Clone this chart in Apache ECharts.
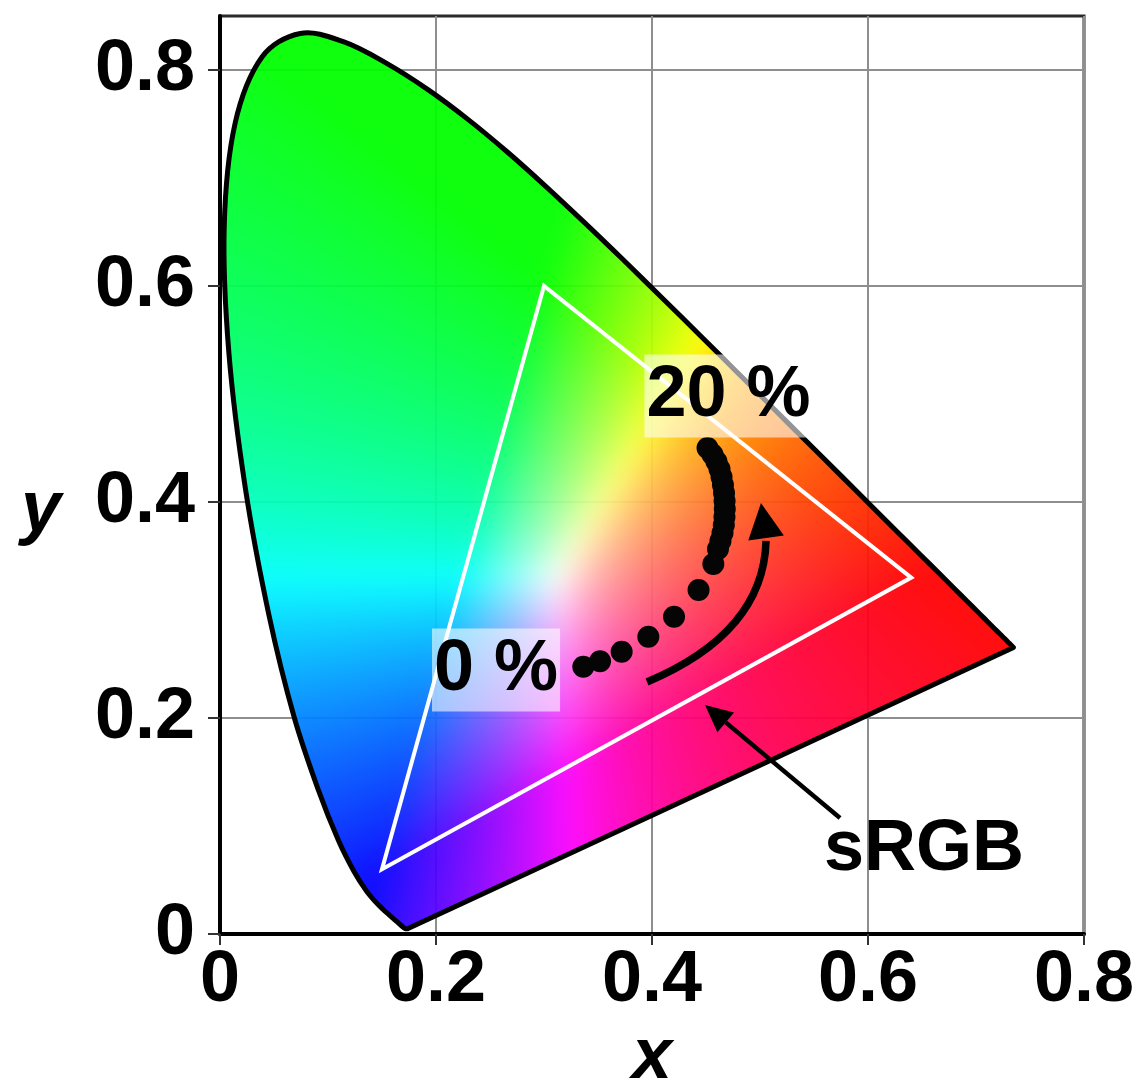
<!DOCTYPE html>
<html>
<head>
<meta charset="utf-8">
<script src="https://cdn.jsdelivr.net/npm/echarts@6/dist/echarts.min.js"></script>
<style>
  html, body { margin: 0; padding: 0; background: #ffffff; }
  #chart { width: 1140px; height: 1088px; }
</style>
</head>
<body>
<div id="chart"></div>
<script>
// Axis extents and tick values
const X_RANGE = [0, 0.8];
const Y_RANGE = [0, 0.85];
const tickValues = [0, 0.2, 0.4, 0.6, 0.8];

// CIE 1931 2-degree spectral locus, 380-700 nm in 5 nm steps
const locusX = [0.1741,0.1740,0.1738,0.1736,0.1733,0.1730,0.1726,0.1721,0.1714,0.1703,0.1689,0.1669,0.1644,0.1611,0.1566,0.1510,0.1440,0.1355,0.1241,0.1096,0.0913,0.0687,0.0454,0.0235,0.0082,0.0039,0.0139,0.0389,0.0743,0.1142,0.1547,0.1929,0.2296,0.2658,0.3016,0.3373,0.3731,0.4087,0.4441,0.4788,0.5125,0.5448,0.5752,0.6029,0.6270,0.6482,0.6658,0.6801,0.6915,0.7006,0.7079,0.7140,0.7190,0.7230,0.7260,0.7283,0.7300,0.7311,0.7320,0.7327,0.7334,0.7340,0.7344,0.7346,0.7347];
const locusY = [0.0050,0.0050,0.0049,0.0049,0.0048,0.0048,0.0048,0.0048,0.0051,0.0058,0.0069,0.0086,0.0109,0.0138,0.0177,0.0227,0.0297,0.0399,0.0578,0.0868,0.1327,0.2007,0.2950,0.4127,0.5384,0.6548,0.7502,0.8120,0.8338,0.8262,0.8059,0.7816,0.7543,0.7243,0.6923,0.6589,0.6245,0.5896,0.5547,0.5202,0.4866,0.4544,0.4242,0.3965,0.3725,0.3514,0.3340,0.3197,0.3083,0.2993,0.2920,0.2859,0.2809,0.2770,0.2740,0.2717,0.2700,0.2689,0.2680,0.2673,0.2666,0.2660,0.2656,0.2654,0.2653];

// sRGB primaries (R, G, B)
const srgbX = [0.64, 0.30, 0.15];
const srgbY = [0.33, 0.60, 0.06];

// Emission chromaticity, 0 % to 20 % in 1 % steps
const dopantX = [0.3364,0.3519,0.3719,0.3966,0.4204,0.4431,0.4568,0.4611,0.4634,0.4653,0.4665,0.4671,0.4674,0.4672,0.4667,0.4657,0.4644,0.4625,0.4597,0.4560,0.4514];
const dopantY = [0.2475,0.2525,0.2614,0.2753,0.2938,0.3185,0.3426,0.3565,0.3639,0.3713,0.3787,0.3861,0.3935,0.4009,0.4083,0.4157,0.4231,0.4306,0.4375,0.4440,0.4500];

// Annotation texts and their anchor points (data space)
const labelText = ['0 %', '20 %', 'sRGB'];
const labelX = [0.2556, 0.4708, 0.6519];
const labelY = [0.2444, 0.4981, 0.0778];
const labelBoxed = [true, true, false];

// Curved trend arrow: start, control, head base, tip
const curveArrowX = [0.3954, 0.5032, 0.5056, 0.5009];
const curveArrowY = [0.2333, 0.2787, 0.3667, 0.3991];
// Straight pointer to the sRGB triangle: start, tip
const pointerArrowX = [0.5741, 0.4491];
const pointerArrowY = [0.1074, 0.2120];

const FONT = '"Liberation Sans", Arial, Helvetica, sans-serif';
const GAMMA = 1.2;

// xy chromaticity -> display colour (clip negatives, normalise to max)
function chromaticityColor(x, y) {
  y = Math.max(y, 1e-3);
  const X = x / y, Y = 1, Z = (1 - x - y) / y;
  let r =  3.2406 * X - 1.5372 * Y - 0.4986 * Z;
  let g = -0.9689 * X + 1.8758 * Y + 0.0415 * Z;
  let b =  0.0557 * X - 0.2040 * Y + 1.0570 * Z;
  r = Math.max(r, 0); g = Math.max(g, 0); b = Math.max(b, 0);
  const m = Math.max(r, g, b) || 1;
  return [r / m, g / m, b / m].map(v => Math.round(255 * Math.pow(v, 1 / GAMMA)));
}

let fillPattern = null;
function getFillPattern(api) {
  if (fillPattern) return fillPattern;
  const W = Math.ceil(api.getWidth()), H = Math.ceil(api.getHeight());
  const p0 = api.coord([X_RANGE[0], Y_RANGE[1]]);
  const p1 = api.coord([X_RANGE[1], Y_RANGE[0]]);
  const raw = document.createElement('canvas');
  raw.width = W; raw.height = H;
  const rctx = raw.getContext('2d');
  const img = rctx.createImageData(W, H);
  const d = img.data;
  for (let j = 0; j < H; j++) {
    const y = Y_RANGE[1] + (j + 0.5 - p0[1]) / (p1[1] - p0[1]) * (Y_RANGE[0] - Y_RANGE[1]);
    for (let i = 0; i < W; i++) {
      const x = X_RANGE[0] + (i + 0.5 - p0[0]) / (p1[0] - p0[0]) * (X_RANGE[1] - X_RANGE[0]);
      const c = chromaticityColor(Math.max(x, 0), y);
      const k = (j * W + i) * 4;
      d[k] = c[0]; d[k + 1] = c[1]; d[k + 2] = c[2]; d[k + 3] = 255;
    }
  }
  rctx.putImageData(img, 0, 0);
  // soften the hue seams of the max-normalised field
  const cv = document.createElement('canvas');
  cv.width = W; cv.height = H;
  const ctx = cv.getContext('2d');
  ctx.filter = 'blur(12px)';
  ctx.drawImage(raw, 0, 0);
  fillPattern = { image: cv, repeat: 'no-repeat' };
  return fillPattern;
}

function renderLocus(params, api) {
  const pts = locusX.map((x, i) => api.coord([x, locusY[i]]));
  return {
    type: 'group',
    children: [
      { type: 'polygon', silent: true, shape: { points: pts, smooth: 0.35 },
        style: { fill: getFillPattern(api), opacity: 0.94 } },
      { type: 'polygon', silent: true, shape: { points: pts, smooth: 0.35 },
        style: { fill: 'none', stroke: '#000', lineWidth: 5, lineJoin: 'round' } }
    ]
  };
}

function renderGamut(params, api) {
  const pts = srgbX.map((x, i) => api.coord([x, srgbY[i]]));
  return { type: 'polygon', silent: true, shape: { points: pts },
    style: { fill: 'none', stroke: '#ffffff', lineWidth: 4, lineJoin: 'miter' } };
}

function arrowHead(tip, base, halfWidth) {
  const dx = tip[0] - base[0], dy = tip[1] - base[1];
  const len = Math.hypot(dx, dy) || 1;
  const nx = -dy / len, ny = dx / len;
  return [tip, [base[0] + nx * halfWidth, base[1] + ny * halfWidth], [base[0] - nx * halfWidth, base[1] - ny * halfWidth]];
}

function renderArrows(params, api) {
  const c = curveArrowX.map((x, i) => api.coord([x, curveArrowY[i]]));
  const s = api.coord([pointerArrowX[0], pointerArrowY[0]]);
  const t = api.coord([pointerArrowX[1], pointerArrowY[1]]);
  const headLen = 27;
  const L = Math.hypot(t[0] - s[0], t[1] - s[1]);
  const base = [t[0] - (t[0] - s[0]) / L * headLen, t[1] - (t[1] - s[1]) / L * headLen];
  return {
    type: 'group',
    children: [
      { type: 'bezierCurve', silent: true,
        shape: { x1: c[0][0], y1: c[0][1], cpx1: c[1][0], cpy1: c[1][1], x2: c[2][0], y2: c[2][1] + 3 },
        style: { fill: 'none', stroke: '#000', lineWidth: 7.5, lineCap: 'butt' } },
      { type: 'polygon', silent: true, shape: { points: arrowHead(c[3], c[2], 18) }, style: { fill: '#000' } },
      { type: 'line', silent: true,
        shape: { x1: s[0], y1: s[1], x2: base[0], y2: base[1] },
        style: { stroke: '#000', lineWidth: 4.5 } },
      { type: 'polygon', silent: true, shape: { points: arrowHead(t, base, 13) }, style: { fill: '#000' } }
    ]
  };
}

function renderLabels(params, api) {
  return {
    type: 'group',
    children: labelText.map((txt, i) => {
      const p = api.coord([labelX[i], labelY[i]]);
      const style = {
        text: txt, fill: '#000', fontSize: 72, fontWeight: 'bold', fontFamily: FONT,
        align: 'center', verticalAlign: 'middle'
      };
      if (labelBoxed[i]) {
        style.backgroundColor = 'rgba(255,255,255,0.58)';
        style.padding = [6, 2, 5, 2];
      }
      return { type: 'text', silent: true, x: p[0], y: p[1], style };
    })
  };
}

const chart = echarts.init(document.getElementById('chart'), null, { renderer: 'canvas' });

const tickLabel = v => (v > 0.81 ? '' : (v === 0 ? '0' : v.toFixed(1)));

chart.setOption({
  animation: false,
  backgroundColor: '#ffffff',
  grid: {
    left: 220, top: 16, width: 864, height: 918,
    show: true, borderColor: '#2a2a2a', borderWidth: 3, backgroundColor: 'transparent',
    outerBoundsMode: 'none', containLabel: false
  },
  xAxis: {
    type: 'value', min: X_RANGE[0], max: X_RANGE[1], interval: 0.2,
    name: 'x', nameLocation: 'middle', nameGap: 88,
    nameTextStyle: { fontSize: 72, fontWeight: 'bold', fontStyle: 'italic', fontFamily: FONT, color: '#000' },
    axisLine: { show: true, onZero: false, lineStyle: { color: '#000', width: 4 } },
    axisTick: { show: true, inside: false, length: 11, lineStyle: { color: '#333', width: 2 } },
    axisLabel: { show: true, margin: 11, formatter: tickLabel, color: '#000',
      fontSize: 72, fontWeight: 'bold', fontFamily: FONT, showMinLabel: true, showMaxLabel: true },
    splitLine: { show: true, lineStyle: { color: '#8e8e8e', width: 2 } }
  },
  yAxis: {
    type: 'value', min: Y_RANGE[0], max: Y_RANGE[1], interval: 0.2,
    name: 'y', nameLocation: 'middle', nameGap: 159, nameRotate: 0,
    nameTextStyle: { fontSize: 72, fontWeight: 'bold', fontStyle: 'italic', fontFamily: FONT, color: '#000',
      verticalAlign: 'top' },
    axisLine: { show: true, onZero: false, lineStyle: { color: '#000', width: 4 } },
    axisTick: { show: true, inside: false, length: 12, customValues: tickValues, lineStyle: { color: '#333', width: 2 } },
    axisLabel: { show: true, margin: 25, formatter: tickLabel, customValues: tickValues, color: '#000',
      fontSize: 72, fontWeight: 'bold', fontFamily: FONT, padding: [8, 0, 0, 0] },
    splitLine: { show: true, lineStyle: { color: '#8e8e8e', width: 2 } }
  },
  series: [
    { type: 'custom', name: 'locus', coordinateSystem: 'cartesian2d', data: [[0, 0]],
      renderItem: renderLocus, z: 1, silent: true, clip: false },
    { type: 'custom', name: 'sRGB', coordinateSystem: 'cartesian2d', data: [[0, 0]],
      renderItem: renderGamut, z: 3, silent: true, clip: false },
    { type: 'scatter', name: 'emission', coordinateSystem: 'cartesian2d',
      data: dopantX.map((x, i) => [x, dopantY[i]]),
      symbol: 'circle', symbolSize: 22, itemStyle: { color: '#050505', opacity: 1 }, z: 4, silent: true },
    { type: 'custom', name: 'arrows', coordinateSystem: 'cartesian2d', data: [[0, 0]],
      renderItem: renderArrows, z: 5, silent: true, clip: false },
    { type: 'custom', name: 'labels', coordinateSystem: 'cartesian2d', data: [[0, 0]],
      renderItem: renderLabels, z: 6, silent: true, clip: false }
  ]
});
</script>
</body>
</html>
